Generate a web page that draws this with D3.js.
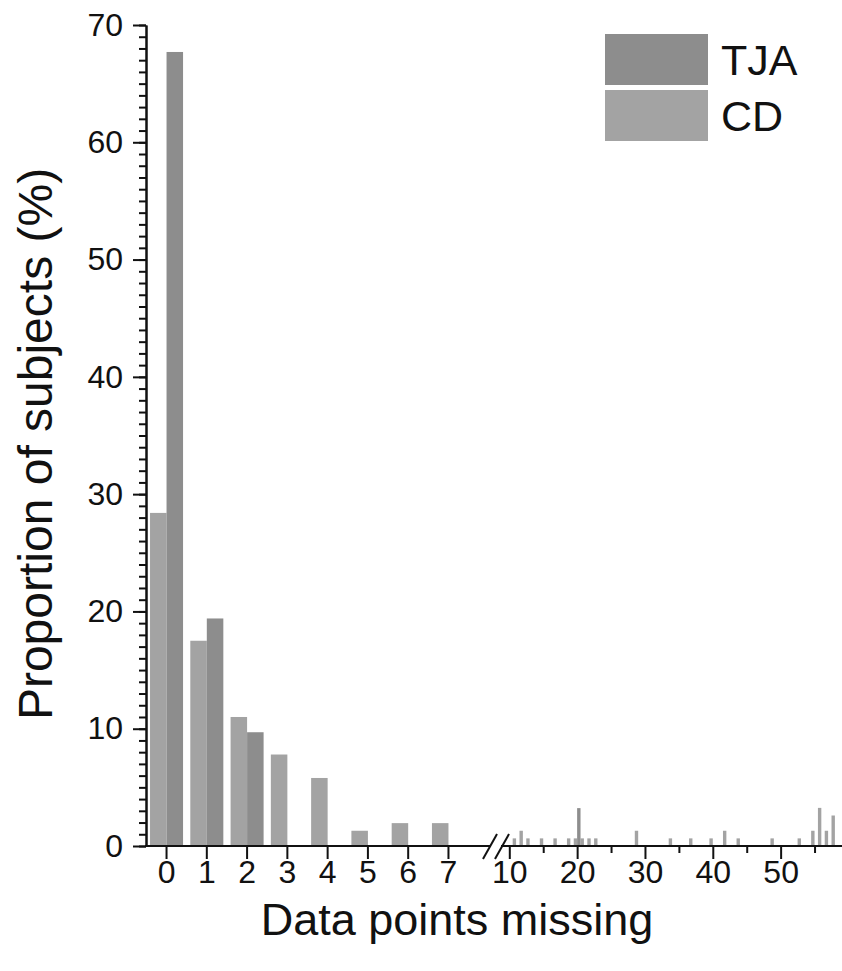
<!DOCTYPE html>
<html>
<head>
<meta charset="utf-8">
<script src="https://cdn.jsdelivr.net/npm/d3@7"></script>
<style>
  body { margin: 0; background: #fff; }
  text { font-family: "Liberation Sans", Arial, sans-serif; fill: #111; }
</style>
</head>
<body>
<div id="container"></div>
<script>
let w = 842;
let h = 971;

// left part of the broken x axis: one group per number of missing points
let cats = [0, 1, 2, 3, 4, 5, 6, 7];
let cdLeft = [28.4, 17.5, 11.0, 7.8, 5.8, 1.3, 1.95, 1.95];
let tjaLeft = [67.7, 19.4, 9.7, 0, 0, 0, 0, 0];

// right part of the broken axis (10 .. 58), only the non-zero values
let cdRightX = [11, 12, 13, 15, 17, 19, 20, 21, 22, 23, 29, 34, 37, 40, 42, 44, 49, 53, 55, 56, 57, 58];
let cdRightY = [0.65, 1.3, 0.65, 0.65, 0.65, 0.65, 0.65, 0.65, 0.65, 0.65, 1.3, 0.65, 0.65, 0.65, 1.3, 0.65, 0.65, 0.65, 1.3, 3.25, 1.3, 2.6];
let tjaRightX = [20];
let tjaRightY = [3.23];

let yTicks = [0, 10, 20, 30, 40, 50, 60, 70];
let xTicksRight = [10, 20, 30, 40, 50];
let xMinorRight = [15, 25, 35, 45, 55];

let series = ["TJA", "CD"];
let colors = {TJA: "#8d8d8d", CD: "#a3a3a3"};

let viz = d3.select("#container")
  .append("svg")
    .attr("width", w)
    .attr("height", h)
    .style("background-color", "white")
;

let yScale = d3.scaleLinear().domain([0, 70]).range([846, 25]);

// left segment: band per category, inner band per series
let xLeft = d3.scaleBand().domain(cats).range([146, 469]).paddingInner(0.18).paddingOuter(0.1);
let xInner = d3.scaleBand().domain(["CD", "TJA"]).range([0, xLeft.bandwidth()]);

// right segment: linear scale on the number of missing points
let xRight = d3.scaleLinear().domain([10, 58.9]).range([509.3, 841]);
let halfW = 0.5; // width of one series bar in units of the right scale

let bars = viz.append("g").attr("class", "bars");

let leftData = [];
cats.forEach(function(c, i){
  leftData.push({cat: c, s: "CD", v: cdLeft[i]});
  leftData.push({cat: c, s: "TJA", v: tjaLeft[i]});
});

bars.selectAll(".barLeft").data(leftData.filter(function(d){ return d.v > 0; }))
  .enter()
  .append("rect")
    .attr("class", "barLeft")
    .attr("x", function(d){ return xLeft(d.cat) + xInner(d.s); })
    .attr("width", xInner.bandwidth())
    .attr("y", function(d){ return yScale(d.v); })
    .attr("height", function(d){ return yScale(0) - yScale(d.v); })
    .attr("fill", function(d){ return colors[d.s]; })
;

let rightData = [];
cdRightX.forEach(function(x, i){ rightData.push({x: x, s: "CD", v: cdRightY[i]}); });
tjaRightX.forEach(function(x, i){ rightData.push({x: x, s: "TJA", v: tjaRightY[i]}); });

bars.selectAll(".barRight").data(rightData)
  .enter()
  .append("rect")
    .attr("class", "barRight")
    .attr("x", function(d){
      return d.s == "CD" ? xRight(d.x - halfW) : xRight(d.x);
    })
    .attr("width", xRight(10 + halfW) - xRight(10))
    .attr("y", function(d){ return yScale(d.v); })
    .attr("height", function(d){ return yScale(0) - yScale(d.v); })
    .attr("fill", function(d){ return colors[d.s]; })
;

// y axis: major ticks with labels, minor ticks every 1 %
let yMinor = viz.append("g").attr("transform", "translate(146,0)")
  .call(d3.axisLeft(yScale).tickValues(d3.range(0, 71, 1)).tickSize(7).tickSizeOuter(0).tickFormat(""));
let yAxis = viz.append("g").attr("transform", "translate(146,0)")
  .call(d3.axisLeft(yScale).tickValues(yTicks).tickSize(13).tickSizeOuter(0).tickPadding(10));

// x axis, left part
let xAxisLeft = viz.append("g").attr("transform", "translate(0,846)")
  .call(d3.axisBottom(xLeft).tickSize(13).tickSizeOuter(0).tickPadding(1));
xAxisLeft.select(".domain").remove();

// x axis, right part
let xMinorR = viz.append("g").attr("transform", "translate(0,846)")
  .call(d3.axisBottom(xRight).tickValues(xMinorRight).tickSize(7).tickFormat(""));
xMinorR.select(".domain").remove();
let xAxisRight = viz.append("g").attr("transform", "translate(0,846)")
  .call(d3.axisBottom(xRight).tickValues(xTicksRight).tickSize(13).tickPadding(1));
xAxisRight.select(".domain").remove();

// baseline pieces and the break marks
let axisLines = viz.append("g").attr("stroke", "#111").attr("stroke-width", 2).attr("fill", "none");
axisLines.append("line").attr("x1", 145).attr("x2", 491).attr("y1", 846).attr("y2", 846);
axisLines.append("line").attr("x1", 501).attr("x2", 842).attr("y1", 846).attr("y2", 846);
axisLines.append("line").attr("x1", 483).attr("y1", 859).attr("x2", 497).attr("y2", 834);
axisLines.append("line").attr("x1", 495).attr("y1", 859).attr("x2", 509).attr("y2", 834);

viz.selectAll(".tick line").attr("stroke", "#111").attr("stroke-width", 2);
viz.selectAll(".domain").attr("stroke", "#111").attr("stroke-width", 2);
viz.selectAll(".tick text").attr("font-size", 32).attr("font-family", "Liberation Sans, Arial, sans-serif").attr("fill", "#111");

// axis titles
viz.append("text")
  .text("Data points missing")
  .attr("x", 457)
  .attr("y", 935)
  .attr("text-anchor", "middle")
  .attr("font-size", 45)
;
viz.append("text")
  .text("Proportion of subjects (%)")
  .attr("transform", "translate(52,444) rotate(-90)")
  .attr("text-anchor", "middle")
  .attr("font-size", 48)
;

// legend
let legend = viz.append("g").attr("class", "legend");
let legendItems = legend.selectAll("g").data(series).enter()
  .append("g")
    .attr("transform", function(d, i){ return "translate(605," + (34 + i * 56) + ")"; })
;
legendItems.append("rect")
  .attr("width", 103)
  .attr("height", 51)
  .attr("fill", function(d){ return colors[d]; })
;
legendItems.append("text")
  .text(function(d){ return d; })
  .attr("x", 116)
  .attr("y", 41)
  .attr("font-size", 43)
;
</script>
</body>
</html>
